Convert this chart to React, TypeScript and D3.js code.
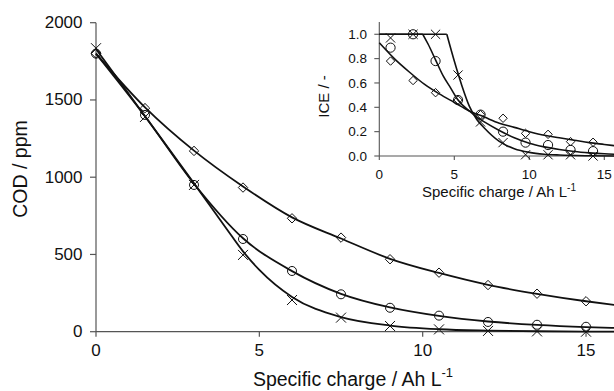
import { useRef, useEffect } from "react";
import * as d3 from "d3";

// main plot: COD vs specific charge
const chargeX = [0, 1.5, 3, 4.5, 6, 7.5, 9, 10.5, 12, 13.5, 15];
const codDiamond = [1800, 1447, 1170, 933, 734, 609, 469, 382, 302, 246, 197];
const codCircle = [1800, 1403, 950, 600, 393, 242, 155, 104, 63, 45, 32];
const codCross = [1835, 1390, 950, 497, 205, 91, 37, 15, 5, 2, 0];

// fitted model curves
const fitDiamondX = [0, 1.5, 3, 4.5, 6, 7.5, 9, 10.5, 12, 13.5, 15, 16];
const fitDiamond = [1800, 1452, 1172, 940, 740, 603, 472, 380, 303, 245, 197, 170];
const fitCircleX = [0, 1.5, 3, 4.5, 6, 7.5, 9, 10.5, 12, 13.5, 15, 16];
const fitCircle = [1800, 1395, 958, 605, 392, 245, 157, 102, 66, 44, 30, 24];
const fitCrossX = [0, 1.5, 3, 4, 4.5, 5, 6, 7.5, 9, 10.5, 12, 13.5, 15, 16];
const fitCross = [1830, 1395, 960, 665, 520, 400, 225, 95, 40, 16, 7, 3, 1, 0];

// inset: ICE vs specific charge
const iceX = [0.75, 2.25, 3.75, 5.25, 6.75, 8.25, 9.75, 11.25, 12.75, 14.25];
const iceDiamond = [0.78, 0.62, 0.52, 0.46, 0.34, 0.31, 0.186, 0.178, 0.118, 0.113];
const iceCircle = [0.89, 1.0, 0.78, 0.46, 0.34, 0.2, 0.11, 0.09, 0.05, 0.04];
const iceCross = [0.97, 1.0, 1.0, 0.665, 0.28, 0.11, 0.01, 0.01, 0.01, 0.0];

const iceFitDiamondX = [0, 1, 2, 3, 4, 5, 6, 7, 8, 9, 10, 11, 12, 13, 14, 15, 16];
const iceFitDiamond = [0.93, 0.8, 0.69, 0.59, 0.51, 0.44, 0.37, 0.32, 0.27, 0.235, 0.2, 0.17, 0.15, 0.13, 0.11, 0.095, 0.08];
const iceFitCircleX = [0, 2.9, 3.25, 3.75, 4.25, 4.75, 5.25, 6, 6.5, 7, 8, 9, 10, 11, 12, 13, 14, 15, 16];
const iceFitCircle = [1, 1, 0.92, 0.79, 0.66, 0.56, 0.46, 0.37, 0.32, 0.28, 0.21, 0.15, 0.105, 0.075, 0.053, 0.037, 0.026, 0.018, 0.013];
const iceFitCrossX = [0, 4.5, 5, 5.5, 6, 6.5, 7, 8, 9, 10, 11, 12, 14, 16];
const iceFitCross = [1, 1, 0.78, 0.58, 0.41, 0.3, 0.23, 0.12, 0.06, 0.03, 0.015, 0.008, 0.002, 0];

const mainYTicks = [0, 500, 1000, 1500, 2000];
const mainXTicks = [0, 5, 10, 15];
const iceYTicks = [0, 0.2, 0.4, 0.6, 0.8, 1.0];
const iceXTicks = [0, 5, 10, 15];

const W = 614;
const H = 391;
const FONT = "'Liberation Sans', Arial, Helvetica, sans-serif";
const INK = "#111";
const AXIS = "#555";

type Sel = d3.Selection<SVGGElement, unknown, null, undefined>;
type Lin = d3.ScaleLinear<number, number>;

function drawMarkers(g: Sel, xs: number[], ys: number[], kind: "circle" | "diamond" | "cross", x: Lin, y: Lin, size: number) {
  xs.forEach((v, i) => {
    const cx = x(v);
    const cy = y(ys[i]);
    const s = size;
    if (kind === "circle") {
      g.append("circle")
        .attr("cx", cx)
        .attr("cy", cy)
        .attr("r", s)
        .attr("fill", "none")
        .attr("stroke", INK)
        .attr("stroke-width", 1);
    } else {
      const d =
        kind === "diamond"
          ? `M${cx},${cy - s}L${cx + s},${cy}L${cx},${cy + s}L${cx - s},${cy}Z`
          : `M${cx - s},${cy - s}L${cx + s},${cy + s}M${cx - s},${cy + s}L${cx + s},${cy - s}`;
      g.append("path")
        .attr("d", d)
        .attr("fill", "none")
        .attr("stroke", INK)
        .attr("stroke-width", 1);
    }
  });
}

function drawFit(g: Sel, xs: number[], ys: number[], x: Lin, y: Lin, width: number) {
  const pts: [number, number][] = xs.map((v, i) => [v, ys[i]]);
  const line = d3
    .line<[number, number]>()
    .x((d) => x(d[0]))
    .y((d) => y(d[1]))
    .curve(d3.curveMonotoneX);
  g.append("path")
    .datum(pts)
    .attr("fill", "none")
    .attr("stroke", INK)
    .attr("stroke-width", width)
    .attr("d", line);
}

export default function App() {
  const svgRef = useRef<SVGSVGElement>(null);

  useEffect(() => {
    if (!svgRef.current) return;
    const svg = d3.select(svgRef.current);
    svg.selectAll("*").remove();

    // ---- main plot ----
    const x = d3.scaleLinear().domain([0, 16]).range([96, 618.7]);
    const y = d3.scaleLinear().domain([0, 2000]).range([331.7, 22.7]);
    const g = svg.append("g") as unknown as Sel;

    // axes
    g.append("line")
      .attr("x1", x(0)).attr("x2", W + 10)
      .attr("y1", y(0)).attr("y2", y(0))
      .attr("stroke", AXIS).attr("stroke-width", 1.2);
    g.append("line")
      .attr("x1", x(0)).attr("x2", x(0))
      .attr("y1", y(0)).attr("y2", y(2000))
      .attr("stroke", AXIS).attr("stroke-width", 1.2);

    mainYTicks.forEach((t) => {
      g.append("line")
        .attr("x1", x(0) - 6).attr("x2", x(0))
        .attr("y1", y(t)).attr("y2", y(t))
        .attr("stroke", AXIS).attr("stroke-width", 1.2);
      g.append("text")
        .attr("x", 82.5).attr("y", y(t) + 5.5)
        .attr("text-anchor", "end")
        .attr("font-family", FONT).attr("font-size", 17)
        .attr("fill", INK)
        .text(String(t));
    });
    mainXTicks.forEach((t) => {
      g.append("line")
        .attr("x1", x(t)).attr("x2", x(t))
        .attr("y1", y(0)).attr("y2", y(0) + 5)
        .attr("stroke", AXIS).attr("stroke-width", 1.2);
      g.append("text")
        .attr("x", x(t)).attr("y", 355.5)
        .attr("text-anchor", "middle")
        .attr("font-family", FONT).attr("font-size", 17)
        .attr("fill", INK)
        .text(String(t));
    });

    // axis titles
    const xt = g.append("text")
      .attr("x", 353).attr("y", 386)
      .attr("text-anchor", "middle")
      .attr("font-family", FONT).attr("font-size", 19.5)
      .attr("fill", INK);
    xt.append("tspan").text("Specific charge / Ah L");
    xt.append("tspan").attr("dy", -9).attr("font-size", 13).text("-1");

    g.append("text")
      .attr("transform", `translate(26.5,169) rotate(-90)`)
      .attr("text-anchor", "middle")
      .attr("font-family", FONT).attr("font-size", 19.5)
      .attr("fill", INK)
      .text("COD / ppm");

    drawFit(g, fitDiamondX, fitDiamond, x, y, 1.8);
    drawFit(g, fitCircleX, fitCircle, x, y, 1.8);
    drawFit(g, fitCrossX, fitCross, x, y, 1.8);
    drawMarkers(g, chargeX, codDiamond, "diamond", x, y, 4.7);
    drawMarkers(g, chargeX, codCircle, "circle", x, y, 4.5);
    drawMarkers(g, chargeX, codCross, "cross", x, y, 5);

    // ---- inset ----
    const ix = d3.scaleLinear().domain([0, 16]).range([379.3, 619.3]);
    const iy = d3.scaleLinear().domain([0, 1.1]).range([156, 22.1]);
    const ig = svg.append("g") as unknown as Sel;

    ig.append("line")
      .attr("x1", ix(0)).attr("x2", W + 10)
      .attr("y1", iy(0)).attr("y2", iy(0))
      .attr("stroke", AXIS).attr("stroke-width", 1.1);
    ig.append("line")
      .attr("x1", ix(0)).attr("x2", ix(0))
      .attr("y1", iy(0)).attr("y2", iy(1.1))
      .attr("stroke", AXIS).attr("stroke-width", 1.1);

    iceYTicks.forEach((t) => {
      ig.append("line")
        .attr("x1", ix(0) - 5).attr("x2", ix(0))
        .attr("y1", iy(t)).attr("y2", iy(t))
        .attr("stroke", AXIS).attr("stroke-width", 1.1);
      ig.append("text")
        .attr("x", 367).attr("y", iy(t) + 4.6)
        .attr("text-anchor", "end")
        .attr("font-family", FONT).attr("font-size", 13.5)
        .attr("fill", INK)
        .text(t.toFixed(1));
    });
    iceXTicks.forEach((t) => {
      ig.append("line")
        .attr("x1", ix(t)).attr("x2", ix(t))
        .attr("y1", iy(0)).attr("y2", iy(0) + 4)
        .attr("stroke", AXIS).attr("stroke-width", 1.1);
      ig.append("text")
        .attr("x", ix(t)).attr("y", 178.5)
        .attr("text-anchor", "middle")
        .attr("font-family", FONT).attr("font-size", 13.5)
        .attr("fill", INK)
        .text(String(t));
    });

    const ixt = ig.append("text")
      .attr("x", 499).attr("y", 197)
      .attr("text-anchor", "middle")
      .attr("font-family", FONT).attr("font-size", 15)
      .attr("fill", INK);
    ixt.append("tspan").text("Specific charge  / Ah L");
    ixt.append("tspan").attr("dy", -6).attr("font-size", 10).text("-1");

    ig.append("text")
      .attr("transform", `translate(328.5,96.5) rotate(-90)`)
      .attr("text-anchor", "middle")
      .attr("font-family", FONT).attr("font-size", 15)
      .attr("fill", INK)
      .text("ICE / -");

    drawFit(ig, iceFitDiamondX, iceFitDiamond, ix, iy, 1.6);
    drawFit(ig, iceFitCircleX.slice(0, 2), iceFitCircle.slice(0, 2), ix, iy, 1.6);
    drawFit(ig, iceFitCircleX.slice(1), iceFitCircle.slice(1), ix, iy, 1.6);
    drawFit(ig, iceFitCrossX.slice(0, 2), iceFitCross.slice(0, 2), ix, iy, 1.6);
    drawFit(ig, iceFitCrossX.slice(1), iceFitCross.slice(1), ix, iy, 1.6);
    drawMarkers(ig, iceX, iceDiamond, "diamond", ix, iy, 4.2);
    drawMarkers(ig, iceX, iceCircle, "circle", ix, iy, 4.6);
    drawMarkers(ig, iceX, iceCross, "cross", ix, iy, 4.6);
  }, []);

  return (
    <div style={{ position: "absolute", left: 0, top: 0, width: W, height: H, background: "#fff" }}>
      <svg ref={svgRef} width={W} height={H} style={{ display: "block" }} />
    </div>
  );
}
